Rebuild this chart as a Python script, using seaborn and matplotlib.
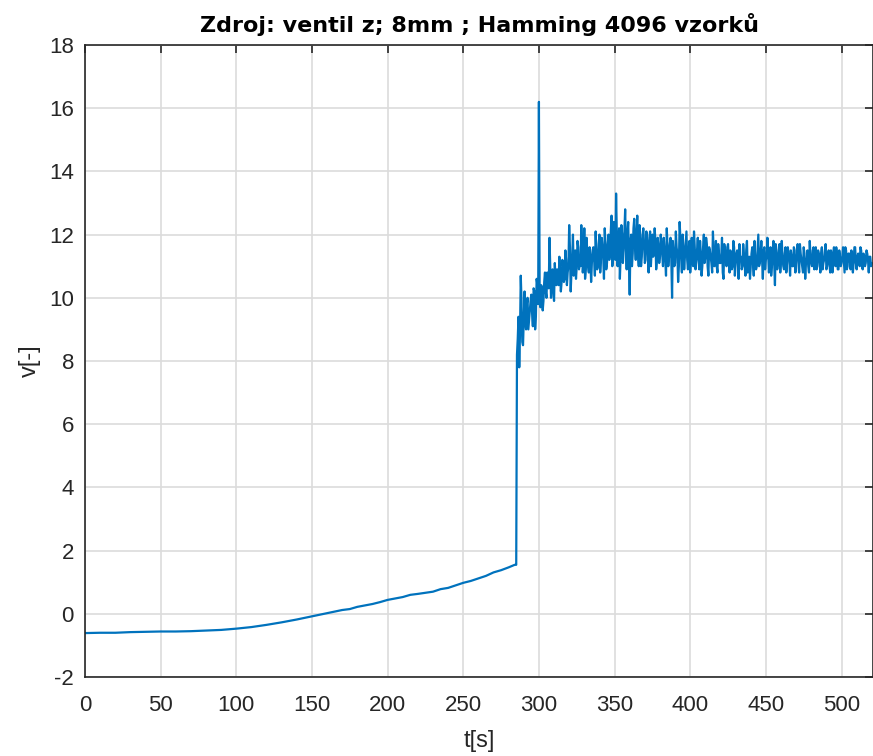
import numpy as np
import pandas as pd
import matplotlib
matplotlib.use("Agg")
import matplotlib.pyplot as plt
import seaborn as sns

# ---- data ----
# smooth rising part (before the jump)
t_smooth = [0, 10, 20, 30, 40, 50, 60, 70, 80, 90, 100, 110, 120, 130, 140, 150,
            160, 170, 175, 180, 190, 195, 200, 210, 215, 220, 230, 235, 240, 245,
            250, 255, 260, 265, 270, 275, 280, 284]
v_smooth = [-0.61, -0.60, -0.60, -0.58, -0.57, -0.56, -0.56, -0.55, -0.53, -0.51,
            -0.47, -0.42, -0.35, -0.27, -0.18, -0.08, 0.02, 0.12, 0.15, 0.22,
            0.31, 0.37, 0.44, 0.53, 0.60, 0.63, 0.70, 0.78, 0.82, 0.90,
            0.98, 1.04, 1.12, 1.20, 1.31, 1.38, 1.47, 1.55]

# noisy part, samples at whole seconds starting at t = 285 s
t_noisy_start = 285
t_noisy_step = 1
v_noisy = [
    1.55, 8.7, 7.8, 10.7, 8.6, 9.3, 9.2, 9.8, 9.0, 9.6,          # 285-294
    10.1, 9.1, 10.2, 9.4, 10.4, 16.2, 9.7, 10.3, 9.9, 10.8,       # 295-304
    10.0, 10.6, 11.9, 10.0, 10.9, 9.9, 10.6, 10.9, 10.4, 10.7,    # 305-314
    10.5, 11.0, 10.6, 11.2, 10.8, 12.3, 10.2, 11.3, 10.7, 11.5,   # 315-324
    11.0, 11.6, 11.3, 12.3, 10.8, 12.2, 10.9, 11.4, 10.8, 11.3,   # 325-334
    11.1, 11.6, 10.7, 11.4, 11.0, 12.0, 11.2, 11.6, 10.6, 11.7,   # 335-344
    11.1, 12.0, 11.4, 12.6, 11.3, 11.8, 13.3, 11.0, 12.2, 11.3,   # 345-354
    12.0, 11.5, 12.8, 10.9, 12.4, 10.1, 12.0, 11.4, 12.5, 11.2,   # 355-364
    12.6, 11.0, 11.8, 11.3, 12.2, 11.1, 12.1, 11.5, 11.9, 11.0,   # 365-374
    12.0, 11.4, 11.8, 11.2, 11.6, 11.3, 11.7, 11.0, 11.5, 10.7,   # 375-384
    11.6, 11.3, 11.9, 10.0, 11.4, 11.1, 11.6, 10.5, 12.4, 11.3,   # 385-394
    12.0, 10.9, 11.7, 11.2, 11.5, 10.8, 11.9, 11.0, 11.6, 11.2,   # 395-404
    11.9, 10.9, 11.4, 11.0, 12.0, 11.3, 11.7, 10.7, 11.5, 11.1,   # 405-414
    12.1, 11.0, 11.8, 10.8, 11.4, 11.1, 11.9, 10.6, 11.5, 11.0,   # 415-424
    11.7, 10.8, 11.3, 11.0, 11.6, 11.1, 11.5, 10.6, 11.2, 10.9,   # 425-434
    11.7, 11.0, 11.5, 10.8, 11.3, 11.0, 11.6, 10.7, 11.2, 11.0,   # 435-444
    12.0, 11.1, 11.8, 10.6, 11.6, 11.2, 11.9, 10.8, 11.6, 11.0,   # 445-454
    11.8, 10.4, 11.5, 11.1, 11.7, 11.2, 11.3, 10.9, 11.6, 11.1,   # 455-464
    11.4, 10.7, 11.3, 11.0, 11.5, 11.2, 11.7, 10.8, 11.4, 11.0,   # 465-474
    11.6, 10.6, 11.2, 11.0, 11.8, 11.1, 11.5, 10.9, 11.6, 11.0,   # 475-484
    11.4, 10.8, 11.6, 11.1, 11.5, 10.9, 11.3, 11.1, 11.5, 10.8,   # 485-494
    11.6, 11.0, 11.4, 10.9, 11.3, 11.1, 11.6, 10.8, 11.5, 11.0,   # 495-504
    11.4, 10.9, 11.3, 11.1, 11.6, 10.9, 11.4, 11.0, 11.5, 10.9,   # 505-514
    11.3, 11.1, 11.4, 10.8, 11.3, 11.1,                           # 515-520
]

# noisy part, samples at half seconds starting at t = 285.5 s
t_half_start = 285.5
v_noisy_half = [
    8.2, 9.4, 8.9, 9.9, 8.5, 10.2, 9.0, 10.0, 9.3, 9.9,           # 285.5-294.5
    9.5, 10.3, 9.0, 10.6, 9.8, 10.0, 10.4, 9.6, 10.5, 10.2,       # 295.5-304.5
    10.8, 10.3, 11.0, 10.7, 10.2, 11.1, 10.4, 10.8, 11.3, 10.2,   # 305.5-314.5
    11.2, 10.5, 11.5, 10.4, 11.0, 11.6, 10.8, 12.0, 11.1, 10.6,   # 315.5-324.5
    11.8, 10.9, 11.0, 11.7, 11.2, 10.6, 11.9, 11.0, 11.6, 10.5,   # 325.5-334.5
    11.5, 11.2, 12.1, 10.9, 11.7, 10.8, 11.9, 11.3, 12.2, 10.9,   # 335.5-344.5
    11.7, 11.2, 12.1, 11.0, 12.4, 11.2, 12.0, 11.6, 10.6, 12.3,   # 345.5-354.5
    11.1, 12.1, 11.6, 12.0, 11.2, 11.8, 11.0, 12.2, 11.6, 12.0,   # 355.5-364.5
    11.4, 12.3, 11.0, 12.0, 11.7, 11.2, 11.8, 10.8, 12.1, 11.5,   # 365.5-374.5
    11.3, 12.2, 10.9, 11.9, 11.1, 12.0, 11.4, 11.9, 11.2, 12.2,   # 375.5-384.5
    11.0, 11.7, 11.2, 11.8, 11.0, 12.1, 11.4, 11.0, 11.9, 10.8,   # 385.5-394.5
    11.6, 11.3, 12.1, 10.9, 11.8, 11.3, 11.1, 12.1, 10.9, 11.5,   # 395.5-404.5
    11.2, 11.8, 10.7, 11.6, 11.1, 11.9, 11.0, 11.6, 11.3, 10.8,   # 405.5-414.5
    11.5, 11.2, 11.0, 11.7, 11.1, 11.3, 10.8, 11.7, 11.2, 11.6,   # 415.5-424.5
    11.2, 11.5, 10.9, 11.8, 10.7, 11.4, 11.1, 11.7, 11.3, 11.0,   # 425.5-434.5
    11.4, 10.7, 11.8, 11.2, 10.6, 11.4, 11.1, 11.8, 10.9, 11.5,   # 435.5-444.5
    11.0, 11.4, 11.2, 11.5, 10.9, 11.3, 11.4, 11.1, 10.7, 11.5,   # 445.5-454.5
    11.1, 11.7, 10.9, 11.4, 10.8, 11.8, 11.0, 11.4, 10.8, 11.6,   # 455.5-464.5
    11.2, 11.5, 11.0, 11.6, 10.8, 11.3, 11.1, 11.7, 11.2, 10.8,   # 465.5-474.5
    11.4, 11.1, 11.5, 10.8, 11.3, 11.0, 11.6, 11.2, 10.9, 11.5,   # 475.5-484.5
    11.2, 11.4, 10.9, 11.2, 11.7, 11.0, 11.5, 10.8, 11.3, 11.4,   # 485.5-494.5
    11.2, 11.6, 10.9, 11.5, 11.0, 11.3, 11.2, 11.6, 10.9, 11.4,   # 495.5-504.5
    11.2, 11.5, 10.8, 11.6, 11.1, 11.3, 11.2, 11.6, 11.0, 11.4,   # 505.5-514.5
    11.0, 11.5, 11.2, 11.3, 11.0,                                 # 515.5-519.5
]

title = "Zdroj: ventil z; 8mm ; Hamming 4096 vzorků"
x_label = "t[s]"
y_label = "v[-]"
x_ticks = [0, 50, 100, 150, 200, 250, 300, 350, 400, 450, 500]
y_ticks = [-2, 0, 2, 4, 6, 8, 10, 12, 14, 16, 18]

# ---- build table ----
t_noisy = [t_noisy_start + i * t_noisy_step for i in range(len(v_noisy))]
t_half = [t_half_start + i * t_noisy_step for i in range(len(v_noisy_half))]
df = pd.DataFrame({"t": list(t_smooth) + t_noisy + t_half,
                   "v": list(v_smooth) + v_noisy + v_noisy_half})
df = df.sort_values("t").reset_index(drop=True)

sns.set_theme(style="white")
plt.rcParams['font.family'] = ['Liberation Sans', 'DejaVu Sans']
plt.rcParams['axes.unicode_minus'] = False

fig = plt.figure(figsize=(8.73, 7.56), dpi=100)
ax = fig.add_axes([85 / 873, 79 / 756, 788 / 873, 632 / 756])

sns.lineplot(data=df, x="t", y="v", ax=ax, color="#0072BD", linewidth=1.6,
             sort=False, estimator=None)

ax.set_xlim(0, 520.8)
ax.set_ylim(-2, 18)
ax.set_xticks(x_ticks)
ax.set_yticks(y_ticks)
ax.grid(True, color="#DCDCDC", linewidth=1.2)
ax.set_axisbelow(True)

dark = "#262626"
for s in ax.spines.values():
    s.set_visible(True)
    s.set_color(dark)
    s.set_linewidth(1.2)
ax.tick_params(axis="both", which="both", direction="in", length=6, width=1.2,
               colors=dark, labelsize=16, top=True, right=True,
               labeltop=False, labelright=False, pad=8)
ax.tick_params(axis="x", pad=13)

ax.set_xlabel(x_label, fontsize=17, color=dark, labelpad=10)
ax.set_ylabel(y_label, fontsize=17, color=dark, labelpad=6)
ax.set_title(title, fontsize=16, fontweight="bold", color="black", pad=9,
             family=["DejaVu Sans"])

fig.savefig("out.png", dpi=100)
